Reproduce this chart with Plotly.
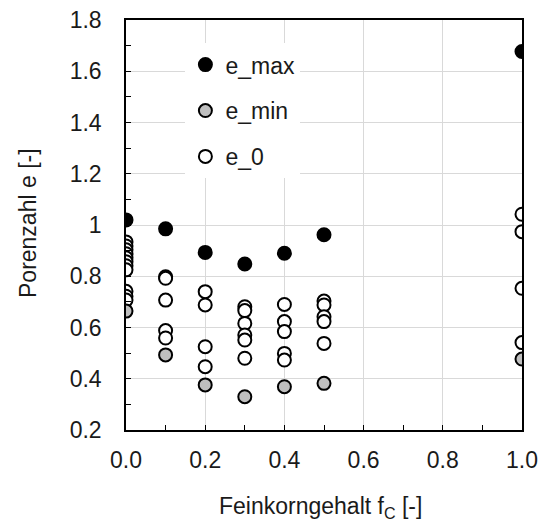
import plotly.graph_objects as go

# Feinkorngehalt f_C [-]
fc_max = [0.0, 0.1, 0.2, 0.3, 0.4, 0.5, 1.0]
e_max = [1.02, 0.985, 0.893, 0.848, 0.890, 0.962, 1.677]

fc_min = [0.0, 0.1, 0.2, 0.3, 0.4, 0.5, 1.0]
e_min = [0.664, 0.493, 0.376, 0.330, 0.369, 0.382, 0.477]

fc_0 = [0.0] * 11 + [0.1] * 5 + [0.2] * 4 + [0.3] * 6 + [0.4] * 5 + [0.5] * 5 + [1.0] * 4
e_0 = [0.934, 0.918, 0.903, 0.888, 0.872, 0.857, 0.841, 0.825, 0.741, 0.722, 0.707,
       0.798, 0.792, 0.707, 0.588, 0.559,
       0.740, 0.688, 0.525, 0.447,
       0.681, 0.666, 0.616, 0.571, 0.551, 0.480,
       0.690, 0.623, 0.584, 0.499, 0.473,
       0.703, 0.688, 0.642, 0.623, 0.538,
       1.042, 0.974, 0.753, 0.541]

x_tickvals = [0.0, 0.2, 0.4, 0.6, 0.8, 1.0]
x_ticktext = ["0.0", "0.2", "0.4", "0.6", "0.8", "1.0"]
y_tickvals = [0.2, 0.4, 0.6, 0.8, 1.0, 1.2, 1.4, 1.6, 1.8]
y_ticktext = ["0.2", "0.4", "0.6", "0.8", "1", "1.2", "1.4", "1.6", "1.8"]

x_title = "Feinkorngehalt f<sub>C</sub> [-]"
y_title = "Porenzahl e [-]"

FONT = "Liberation Sans, Arial, sans-serif"

fig = go.Figure()
fig.add_trace(go.Scatter(
    x=fc_0, y=e_0, mode="markers", name="e_0", legendgroup="c", legendrank=3,
    marker=dict(size=13, color="white", line=dict(color="black", width=2)),
))
fig.add_trace(go.Scatter(
    x=fc_min, y=e_min, mode="markers", name="e_min", legendgroup="b", legendrank=2,
    marker=dict(size=13, color="#bfbfbf", line=dict(color="black", width=2)),
))
fig.add_trace(go.Scatter(
    x=fc_max, y=e_max, mode="markers", name="e_max", legendgroup="a", legendrank=1,
    marker=dict(size=13, color="black", line=dict(color="black", width=2)),
))

fig.update_layout(
    width=546, height=526,
    margin=dict(l=126, r=24, t=20, b=96, autoexpand=False),
    paper_bgcolor="white", plot_bgcolor="white",
    font=dict(family=FONT, size=23, color="#1a1a1a"),
    showlegend=True,
    legend=dict(
        x=0.15, y=0.9435, xanchor="left", yanchor="top",
        bgcolor="white", font=dict(size=23, color="#1a1a1a"),
        tracegroupgap=13, traceorder="grouped",
    ),
    xaxis=dict(
        range=[0, 1.0], tickvals=x_tickvals, ticktext=x_ticktext,
        showgrid=True, gridcolor="#d9d9d9", gridwidth=1,
        ticks="inside", ticklen=5, tickcolor="black",
        minor=dict(dtick=0.1, tick0=0, ticks="inside", ticklen=5, tickcolor="black", showgrid=False),
        showline=True, linecolor="black", linewidth=1.5, mirror=True,
        zeroline=False, ticklabelstandoff=9, automargin=False, ticklabeloverflow="allow",
    ),
    yaxis=dict(
        range=[0.2, 1.8], tickvals=y_tickvals, ticktext=y_ticktext,
        showgrid=True, gridcolor="#d9d9d9", gridwidth=1,
        ticks="inside", ticklen=5, tickcolor="black",
        minor=dict(dtick=0.1, tick0=0.2, ticks="inside", ticklen=5, tickcolor="black", showgrid=False),
        showline=True, linecolor="black", linewidth=1.5, mirror=True,
        zeroline=False, ticklabelstandoff=18, automargin=False, ticklabeloverflow="allow",
    ),
    annotations=[
        dict(text=x_title, xref="paper", yref="paper", x=0.5, y=0,
             xanchor="center", yanchor="middle", xshift=-4, yshift=-77,
             showarrow=False, font=dict(size=23)),
        dict(text=y_title, xref="paper", yref="paper", x=0, y=0.5,
             xanchor="center", yanchor="middle", xshift=-98, yshift=2, textangle=-90,
             showarrow=False, font=dict(size=23)),
    ],
)

fig.write_html(
    "out.html",
    config={"displayModeBar": False},
    post_script="document.body.style.margin='0';document.body.style.overflow='hidden';",
)
